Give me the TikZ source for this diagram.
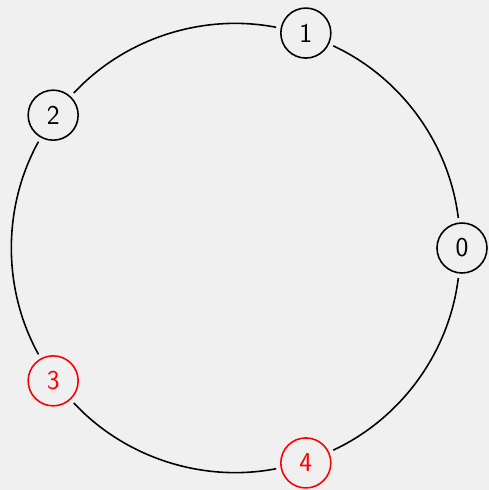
\documentclass[tikz,border=0pt]{standalone}
\usepackage{amsmath}
\usepackage{amssymb}
\usepackage{tikz}

\tikzset{
  vert/.style={circle, draw, minimum size=1cm, inner sep=0pt, outer sep=3pt, font=\sffamily\fontsize{15.5}{18}\selectfont, line width=0.9pt},
  marc/.style={vert, draw=red, text=red}
}

\begin{document}
\begin{tikzpicture}[line width=0.9pt]
      \fill[gray!12] (-4.72, -4.84) rectangle (5.06, 4.96);
      \useasboundingbox (-4.72, -4.84) rectangle (5.06, 4.96);
      % Vértices
      \node[vert] (v0) at (0:4.52) {0};
      \node[vert] (v1) at (72:4.52) {1};
      \node[vert] (v2) at (144:4.52) {2};
      \node[marc] (v3) at (216:4.52) {3};
      \node[marc] (v4) at (288:4.52) {4};

      % Arcos
      \draw (v0) to[bend right=29, looseness=0.9] (v1);
      \draw (v1) to[bend right=29, looseness=0.9] (v2);
      \draw (v2) to[bend right=29, looseness=0.9] (v3);
      \draw (v3) to[bend right=29, looseness=0.9] (v4);
      \draw (v4) to[bend right=29, looseness=0.9] (v0);
\end{tikzpicture}
\end{document}
